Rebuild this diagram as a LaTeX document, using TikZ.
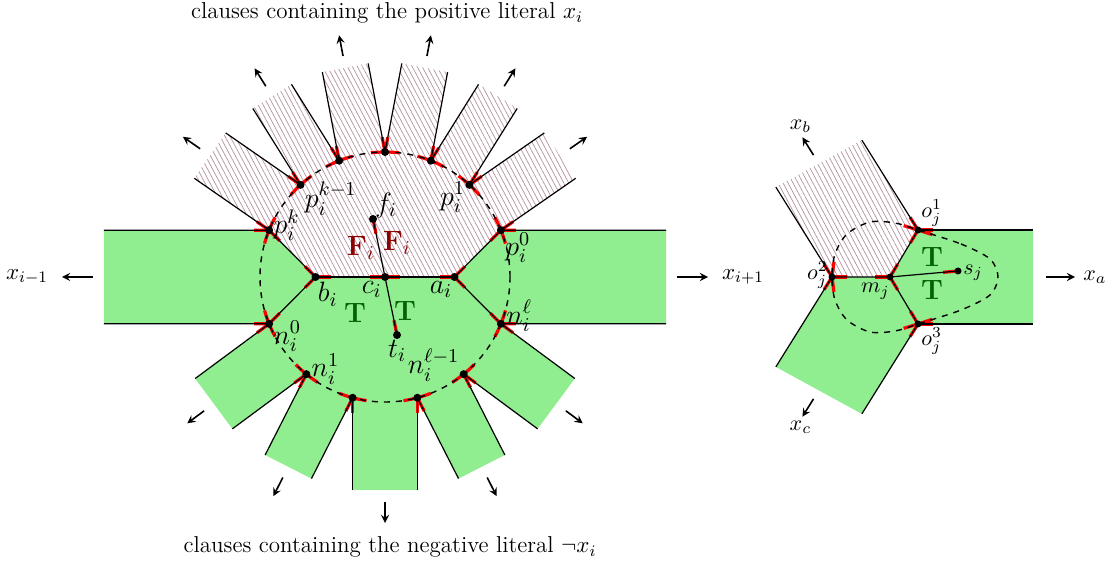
\RequirePackage{fix-cm}
\documentclass[tikz,border=0pt]{standalone}
\usepackage{amsmath}
\usepackage{amssymb}
\usepackage{tikz}
\usetikzlibrary{calc, patterns.meta}

\definecolor{litgreen}{RGB}{144,238,144}
\definecolor{hatchgray}{RGB}{178,145,160}
\definecolor{falsered}{RGB}{139,0,0}
\definecolor{truegreen}{RGB}{0,100,0}

\begin{document}
\begin{tikzpicture}[x=0.5pt, y=0.5pt, >=stealth,
		hatched/.style={pattern={Lines[angle=-62, distance=2.2pt, line width=0.35pt]}, pattern color=hatchgray},
		port/.style={red, line width=1.6pt},
		wire/.style={line width=0.6pt},
		ring/.style={dashed, line width=0.7pt},
		exit/.style={->, thick},
		lbl/.style={font=\fontsize{14}{16}\selectfont, inner sep=0.5pt},
		slbl/.style={font=\fontsize{11}{13}\selectfont, inner sep=0.5pt},
		txt/.style={font=\fontsize{11.5}{14}\selectfont}]
		\useasboundingbox (-385,-289) rectangle (732,277);

		% Dots on the circle
		\coordinate (p0) at (22:125);
		\coordinate (p1) at (47.5:125);
		\coordinate (p2) at (68.5:125);
		\coordinate (p3) at (90:125);
		\coordinate (p4) at (111.5:125);
		\coordinate (p5) at (132.5:125);
		\coordinate (p6) at (158:125);
		\coordinate (n0) at (202:125);
		\coordinate (n1) at (231:125);
		\coordinate (n2) at (255:125);
		\coordinate (n3) at (285:125);
		\coordinate (n4) at (309:125);
		\coordinate (n5) at (338:125);

		% Inner points
		\coordinate (b) at (-69.5,0);
		\coordinate (c) at (0,0);
		\coordinate (a) at (69.5,0);
		\coordinate (f) at (-12,58);
		\coordinate (t) at (12,-58);

		% Ends of the horizontal band
		\coordinate (lbt) at (-281,46.83);
		\coordinate (lbb) at (-281,-46.83);
		\coordinate (rbt) at (281,46.83);
		\coordinate (rbb) at (281,-46.83);

		% Green part
		\fill[litgreen] (p6) -- (b) -- (a) -- (p0) arc[start angle=22, end angle=-202, radius=125] -- cycle;
		\fill[litgreen] (p6) -- (lbt) -- (lbb) -- (n0) -- cycle;
		\fill[litgreen] (p0) -- (rbt) -- (rbb) -- (n5) -- cycle;
		\foreach \da/\db in {202/231, 231/255, 255/285, 285/309, 309/338} {
			\pgfmathsetmacro\sdir{(\da+\db)/2}
			\pgfmathsetmacro\slen{213-125*cos((\db-\da)/2)}
			\fill[litgreen] (\da:125) -- ++(\sdir:\slen) -- ($(\db:125)+(\sdir:\slen)$) -- (\db:125) -- cycle;
			\draw[exit] (\sdir:225) -- (\sdir:246);
		}

		% Hatched part
		\fill[hatched] (b) -- (p6) arc[start angle=158, end angle=22, radius=125] -- (a) -- cycle;
		\foreach \da/\db in {22/47.5, 47.5/68.5, 68.5/90, 90/111.5, 111.5/132.5, 132.5/158} {
			\pgfmathsetmacro\sdir{(\da+\db)/2}
			\pgfmathsetmacro\slen{213-125*cos((\db-\da)/2)}
			\fill[hatched] (\da:125) -- ++(\sdir:\slen) -- ($(\db:125)+(\sdir:\slen)$) -- (\db:125) -- cycle;
			\draw[exit] (\sdir:225) -- (\sdir:246);
		}

		% Red ports
		\foreach \ang [evaluate=\ang as \sa using \ang-6.5, evaluate=\ang as \se using \ang+6.5]
			in {22,47.5,68.5,90,111.5,132.5,158,202,231,255,285,309,338}
			\draw[port] (\sa:125) arc[start angle=\sa, end angle=\se, radius=125];
		\foreach \da/\db in {22/47.5, 47.5/68.5, 68.5/90, 90/111.5, 111.5/132.5, 132.5/158, 202/231, 231/255, 255/285, 285/309, 309/338} {
			\pgfmathsetmacro\sdir{(\da+\db)/2}
			\draw[port] (\da:125) -- ++(\sdir:15);
			\draw[port] (\db:125) -- ++(\sdir:15);
		}
		\foreach \u/\w in {p6/b, b/p6, n0/b, b/n0, b/a, c/b, c/a, a/b, a/p0, p0/a, a/n5, n5/a, p6/lbt, n0/lbb, p0/rbt, n5/rbb, f/t, t/f}
			\draw[port] (\u) -- ($(\u)!7.5pt!(\w)$);

		% Strip borders
		\foreach \da/\db in {22/47.5, 47.5/68.5, 68.5/90, 90/111.5, 111.5/132.5, 132.5/158, 202/231, 231/255, 255/285, 285/309, 309/338} {
			\pgfmathsetmacro\sdir{(\da+\db)/2}
			\pgfmathsetmacro\slen{213-125*cos((\db-\da)/2)}
			\draw[wire] (\da:125) -- ++(\sdir:\slen);
			\draw[wire] (\db:125) -- ++(\sdir:\slen);
		}
		\draw[wire] (p6) -- (lbt);
		\draw[wire] (n0) -- (lbb);
		\draw[wire] (p0) -- (rbt);
		\draw[wire] (n5) -- (rbb);
		\draw[wire] (p6) -- (b) -- (n0);
		\draw[wire] (p0) -- (a) -- (n5);
		\draw[wire] (b) -- (a);
		\draw[wire] (f) -- (t);

		% Circle
		\draw[ring] (c) circle (125);
		\foreach \q in {p0,p1,p2,p3,p4,p5,p6,n0,n1,n2,n3,n4,n5,a,b,c,f,t}
			\fill (\q) circle (4);

		% Labels of the left gadget
		\node[lbl, anchor=west] at ($(p6)+(3,5)$) {$p_i^k$};
		\node[lbl, anchor=north west] at ($(p5)+(3,4)$) {$p_i^{k-1}$};
		\node[lbl, anchor=north east] at ($(p1)+(-3,4)$) {$p_i^1$};
		\node[lbl, anchor=north west] at ($(p0)+(3,-1)$) {$p_i^0$};
		\node[lbl, anchor=north west] at ($(n0)+(3,4)$) {$n_i^0$};
		\node[lbl, anchor=west] at ($(n1)+(4,5)$) {$n_i^1$};
		\node[lbl, anchor=east] at ($(n4)+(-3,9)$) {$n_i^{\ell-1}$};
		\node[lbl, anchor=west] at ($(n5)+(4,8)$) {$n_i^\ell$};
		\node[lbl, anchor=north west] at ($(b)+(1,-4)$) {$b_i$};
		\node[lbl, anchor=north east] at ($(c)+(-2,-3)$) {$c_i$};
		\node[lbl, anchor=north east] at ($(a)+(-1,-3)$) {$a_i$};
		\node[lbl, anchor=south west] at ($(f)+(1,0)$) {$f_i$};
		\node[lbl, anchor=north] at ($(t)+(0,-4)$) {$t_i$};
		\node[lbl, text=falsered] at (-24,29) {$\mathbf{F}_i$};
		\node[lbl, text=falsered] at (12,34) {$\mathbf{F}_i$};
		\node[lbl, text=truegreen] at (-30,-36) {$\mathbf{T}$};
		\node[lbl, text=truegreen] at (20,-34) {$\mathbf{T}$};

		% Side arrows
		\coordinate (lat) at (-292,0);
		\coordinate (lah) at (-323,0);
		\coordinate (rat) at (292,0);
		\coordinate (rah) at (323,0);
		\draw[exit] (lat) -- (lah);
		\draw[exit] (rat) -- (rah);
		\node[txt, anchor=east] at ($(lah)+(-7,0)$) {$x_{i-1}$};
		\node[txt, anchor=west] at ($(rah)+(7,0)$) {$x_{i+1}$};

		\node[txt] at (2,264) {clauses containing the positive literal $x_i$};
		\node[txt] at (5,-270) {clauses containing the negative literal $\neg x_i$};

		% Right gadget
		\coordinate (m) at (505,0);
		\coordinate (o1) at (533,47);
		\coordinate (o2) at (447,0);
		\coordinate (o3) at (533,-47);
		\coordinate (s) at (573,6);
		\coordinate (xbL) at ($(o2)+(122:106)$);
		\coordinate (xbR) at ($(o1)+(122:106)$);
		\coordinate (xcL) at ($(o2)+(238:106)$);
		\coordinate (xcR) at ($(o3)+(238:106)$);
		\coordinate (xat) at (648,47);
		\coordinate (xab) at (648,-47);
		\coordinate (xbM) at ($(xbL)!0.5!(xbR)$);
		\coordinate (xcM) at ($(xcL)!0.5!(xcR)$);

		% Loop points
		\coordinate (lp1) at (576,33);
		\coordinate (lp2) at (576,-33);
		\coordinate (lp3) at (510,-54);
		\coordinate (lp4) at (450,-23);
		\coordinate (lp5) at (450,23);
		\coordinate (lp6) at (510,54);

		\fill[litgreen] (m) -- (o1) -- (xat) -- (xab) -- (o3) -- cycle;
		\fill[litgreen] (o2) -- (m) -- (o3) -- (xcR) -- (xcL) -- cycle;
		\fill[hatched] (o2) -- (m) -- (o1) -- (xbR) -- (xbL) -- cycle;

		\foreach \u/\w in {o1/m, m/o1, o2/m, m/o2, o3/m, m/o3, s/m, o1/xbR, o2/xbL, o2/xcL, o3/xcR, o1/xat, o3/xab, o1/lp1, o1/lp6, o2/lp5, o2/lp4, o3/lp2, o3/lp3}
			\draw[port] (\u) -- ($(\u)!7.5pt!(\w)$);

		\draw[wire] (o2) -- (xbL);
		\draw[wire] (o1) -- (xbR);
		\draw[wire] (o2) -- (xcL);
		\draw[wire] (o3) -- (xcR);
		\draw[wire] (o1) -- (xat);
		\draw[wire] (o3) -- (xab);
		\draw[wire] (o2) -- (m) -- (o1);
		\draw[wire] (m) -- (o3);
		\draw[wire] (m) -- (s);
		\draw[ring] plot[smooth cycle] coordinates {(o1) (lp1) (605,18) (613,0) (605,-18) (lp2) (o3) (lp3) (485,-55) (462,-43) (lp4) (o2) (lp5) (462,43) (485,55) (lp6)};
		\foreach \q in {m,o1,o2,o3,s}
			\fill (\q) circle (3.5);

		\node[slbl, anchor=south west] at ($(o1)+(2,2)$) {$o_j^1$};
		\node[slbl, anchor=east] at ($(o2)+(-3,2)$) {$o_j^2$};
		\node[slbl, anchor=north west] at ($(o3)+(2,-2)$) {$o_j^3$};
		\node[slbl, anchor=north east] at ($(m)+(1,-5)$) {$m_j$};
		\node[slbl, anchor=west] at ($(s)+(4,-2)$) {$s_j$};
		\node[lbl, text=truegreen] at (547,20) {$\mathbf{T}$};
		\node[lbl, text=truegreen] at (547,-13) {$\mathbf{T}$};

		\draw[exit] ($(xbM)+(122:10)$) -- ($(xbM)+(122:31)$) coordinate (xbh);
		\draw[exit] ($(xcM)+(238:10)$) -- ($(xcM)+(238:31)$) coordinate (xch);
		\draw[exit] (661,0) -- (690,0) coordinate (xah);
		\node[slbl, anchor=south] at ($(xbh)+(-2,3)$) {$x_b$};
		\node[slbl, anchor=north] at ($(xch)+(-2,-3)$) {$x_c$};
		\node[slbl, anchor=west] at ($(xah)+(7,0)$) {$x_a$};
	\end{tikzpicture}
\end{document}
